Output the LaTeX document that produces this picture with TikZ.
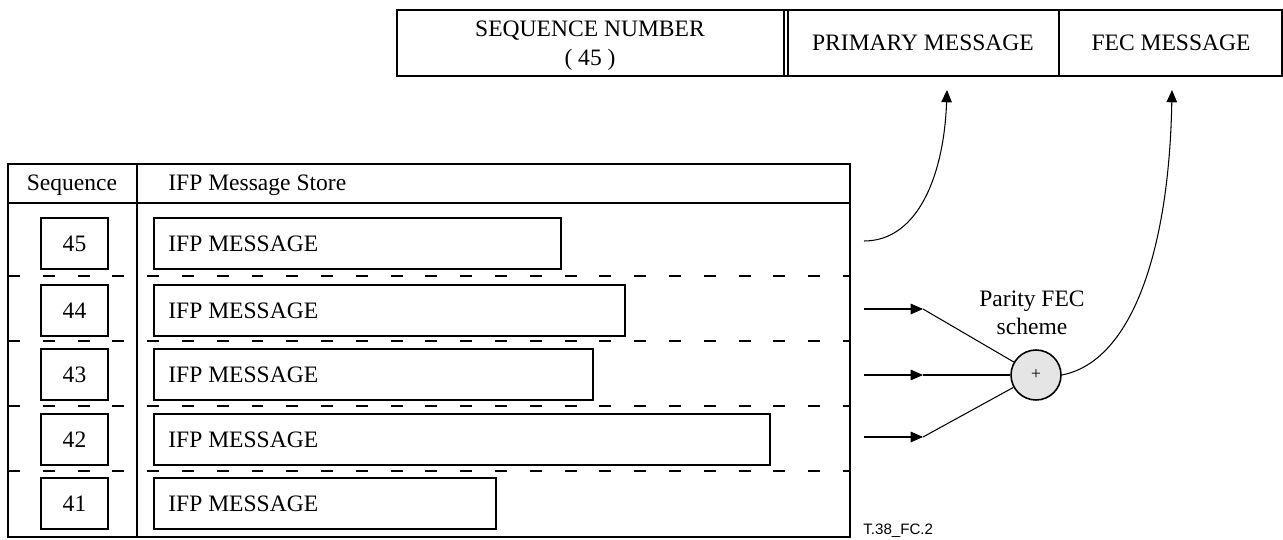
\documentclass[tikz,border=0pt]{standalone}
\usepackage{fontspec}
\setmainfont{Liberation Serif}
\newfontfamily\tagfont{Liberation Sans}
\usetikzlibrary{arrows.meta}

\begin{document}
\begin{tikzpicture}[x=0.02cm, y=-0.02cm, every node/.style={inner sep=0pt, font=\fontsize{13.4}{15.8}\selectfont}]
	\tikzset{frame/.style={line width=1.1pt}, arr/.style={line width=0.6pt, -{Triangle[length=7pt, width=6pt]}}}
	\useasboundingbox (0,0) rectangle (1283,540);
	\draw[frame] (397,10) rectangle (1282,76);
	\draw[line width=0.8pt] (784,10) -- (784,76) (788,10) -- (788,76);
	\draw[frame] (1059,10) -- (1059,76);
	\node[align=center, font=\fontsize{13.4}{16.5}\selectfont] (seqfield) at (590,46) {SEQUENCE NUMBER\\( 45 )};
	\node (primfield) at (923,43) {PRIMARY MESSAGE};
	\node (fecfield) at (1171,43) {FEC MESSAGE};
	\draw[frame] (8,164) rectangle (850,537);
	\draw[line width=1.6pt] (8,203) -- (850,203);
	\draw[frame] (137,164) -- (137,537);
	\node[anchor=base] (seqhead) at (72,191) {Sequence};
	\node[anchor=base west] (storehead) at (168,191) {IFP Message Store};
	\foreach \y in {276,341,406,471}
	\draw[line width=0.7pt, dash pattern=on 6.8pt off 13pt] (8,\y) -- (850,\y);
	\foreach \seqno/\ytop/\xend in {45/218/561, 44/285/625, 43/349/593, 42/414/770, 41/478/496} {
		\node[draw, frame, minimum width=1.34cm, minimum height=1.02cm] (num\seqno) at (74.5,\ytop+25.5) {\seqno};
		\draw[frame] (154,\ytop) rectangle (\xend,\ytop+51);
		\node[anchor=west] (msg\seqno) at (168,\ytop+25.5) {IFP MESSAGE};
	}
	\node[circle, draw, line width=0.9pt, fill=gray!20, minimum size=1cm, font=\fontsize{10}{10}\selectfont] (xor) at (1036,375) {+};
	\node[align=center] (paritylabel) at (1032,313) {Parity FEC\\scheme};
	\coordinate (primout) at (864,241);
	\coordinate (primin) at (947,90);
	\coordinate (fecin) at (1172,90);
	\foreach \y/\name in {309/a, 375/b, 437/c} {
		\coordinate (src\name) at (864,\y);
		\coordinate (tip\name) at (923,\y);
		\draw[arr] (src\name) -- (tip\name);
		\draw[line width=0.6pt] (tip\name) -- (xor);
	}
	\draw[arr] (primout) .. controls (918,241) and (944,175) .. (primin);
	\draw[arr] (xor.east) .. controls (1130,362) and (1169,255) .. (fecin);
	\node[anchor=base west, font=\tagfont\fontsize{8.6}{10}\selectfont] (figtag) at (863,534) {T.38\_FC.2};
\end{tikzpicture}
\end{document}
